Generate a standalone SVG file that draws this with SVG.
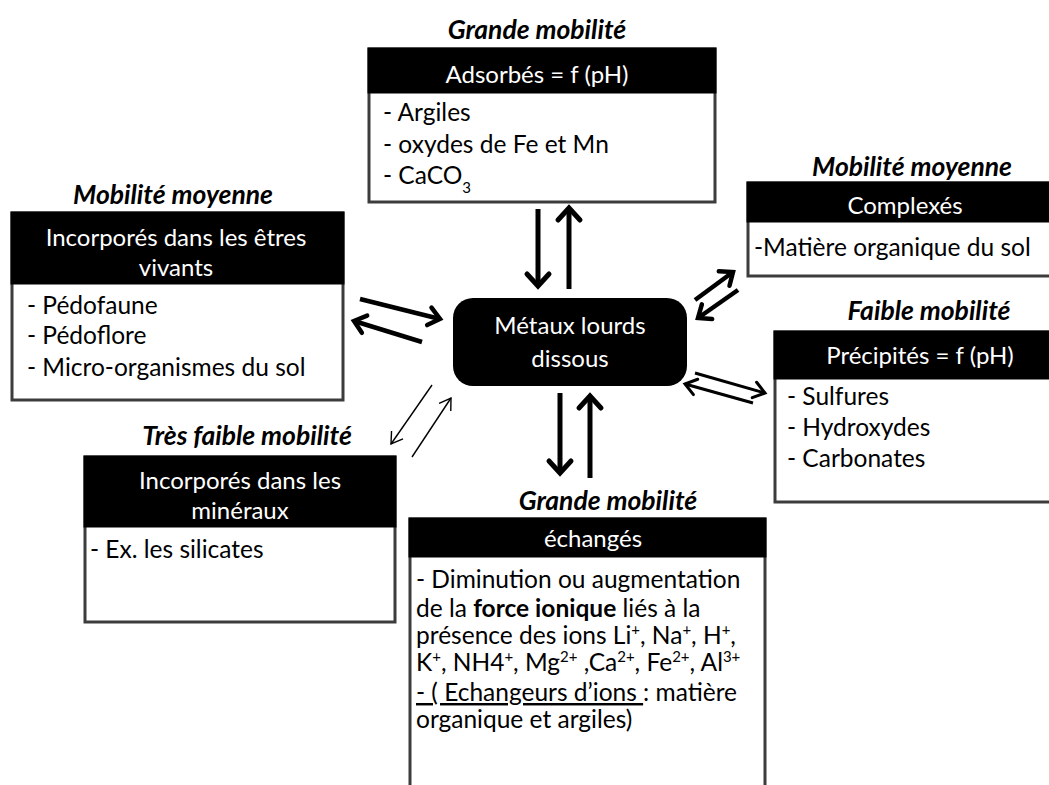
<svg xmlns="http://www.w3.org/2000/svg" width="1049" height="785" viewBox="0 0 1049 785">
  <style>
    .title { font-family: Lato, "Liberation Sans", sans-serif; font-size: 26.5px; font-weight: bold; font-style: italic; fill: #000; text-anchor: middle; }
    .head { font-family: Lato, "Liberation Sans", sans-serif; font-size: 24px; fill: #fff; text-anchor: middle; }
    .body { font-family: Lato, "Liberation Sans", sans-serif; font-size: 24.5px; fill: #000; }
    .frame { fill: #fff; stroke: #3c3c3c; stroke-width: 3; }
    .bar { fill: #000; }
    .thick { stroke: #000; stroke-width: 5; fill: none; }
    .mid { stroke: #000; stroke-width: 4.5; fill: none; }
    .light { stroke: #000; stroke-width: 3; fill: none; }
    .thin { stroke: #000; stroke-width: 1.4; fill: none; }
    .sup { font-size: 15px; }
  </style>
  <defs>
    <marker id="headBig" markerUnits="userSpaceOnUse" viewBox="-16 -14 20 28" markerWidth="20" markerHeight="28" refX="0" refY="0" orient="auto" overflow="visible">
      <path d="M-12,-11 L0,0 L-12,11" fill="none" stroke="#000" stroke-width="5" stroke-linecap="round"/>
    </marker>
    <marker id="headMid" markerUnits="userSpaceOnUse" viewBox="-14 -12 18 24" markerWidth="18" markerHeight="24" refX="0" refY="0" orient="auto" overflow="visible">
      <path d="M-11,-9 L0,0 L-11,9" fill="none" stroke="#000" stroke-width="4.5" stroke-linecap="round"/>
    </marker>
    <marker id="headLight" markerUnits="userSpaceOnUse" viewBox="-14 -12 18 24" markerWidth="18" markerHeight="24" refX="0" refY="0" orient="auto" overflow="visible">
      <path d="M-11,-8 L0,0 L-11,8" fill="none" stroke="#000" stroke-width="3" stroke-linecap="round"/>
    </marker>
    <marker id="headThin" markerUnits="userSpaceOnUse" viewBox="-14 -12 18 24" markerWidth="18" markerHeight="24" refX="0" refY="0" orient="auto" overflow="visible">
      <path d="M-11,-7 L0,0 L-11,7" fill="none" stroke="#000" stroke-width="1.4"/>
    </marker>
  </defs>

  <rect width="1049" height="785" fill="#fff"/>

  <!-- adsorbed fraction -->
  <g id="adsorbes">
    <text class="title" x="537" y="39">Grande mobilité</text>
    <rect class="frame" x="369" y="49" width="346" height="153"/>
    <rect class="bar" x="367.5" y="47.5" width="349" height="46"/>
    <text class="head" x="537" y="83">Adsorbés = f (pH)</text>
    <text class="body" x="383" y="121">-  Argiles</text>
    <text class="body" x="383" y="153">-  oxydes de Fe et Mn</text>
    <text class="body" x="383" y="184">-  CaCO<tspan class="sup" baseline-shift="sub">3</tspan></text>
  </g>

  <!-- living organisms -->
  <g id="etres-vivants">
    <text class="title" x="173" y="204">Mobilité moyenne</text>
    <rect class="frame" x="12" y="213" width="331" height="187"/>
    <rect class="bar" x="10.5" y="211.5" width="334" height="73"/>
    <text class="head" x="176" y="246">Incorporés dans les êtres</text>
    <text class="head" x="176" y="276">vivants</text>
    <text class="body" x="27" y="314">- Pédofaune</text>
    <text class="body" x="27" y="344">- Pédoflore</text>
    <text class="body" x="27" y="376"> - Micro-organismes du sol</text>
  </g>

  <!-- complexed fraction -->
  <g id="complexes">
    <text class="title" x="912" y="176">Mobilité moyenne</text>
    <rect class="frame" x="748" y="183" width="310" height="93"/>
    <rect class="bar" x="746.5" y="181.5" width="313" height="41"/>
    <text class="head" x="905" y="214">Complexés</text>
    <text class="body" x="754" y="256">-Matière organique du sol</text>
  </g>

  <!-- central node -->
  <g id="metaux-dissous">
    <rect x="453" y="298" width="234" height="88" rx="20" fill="#000"/>
    <text class="head" x="570" y="334" font-size="24.5">Métaux lourds</text>
    <text class="head" x="570" y="367" font-size="24.5">dissous</text>
  </g>

  <!-- precipitated fraction -->
  <g id="precipites">
    <text class="title" x="929" y="320">Faible mobilité</text>
    <rect class="frame" x="775" y="332" width="283" height="170"/>
    <rect class="bar" x="773.5" y="330.5" width="286" height="49"/>
    <text class="head" x="920" y="364">Précipités = f (pH)</text>
    <text class="body" x="787" y="405">- Sulfures</text>
    <text class="body" x="787" y="436">- Hydroxydes</text>
    <text class="body" x="787" y="467">-  Carbonates</text>
  </g>

  <!-- mineral-bound fraction -->
  <g id="mineraux">
    <text class="title" x="247" y="445">Très faible  mobilité</text>
    <rect class="frame" x="85" y="457" width="310" height="165"/>
    <rect class="bar" x="83.5" y="455.5" width="313" height="72"/>
    <text class="head" x="240" y="489">Incorporés  dans les</text>
    <text class="head" x="240" y="519">minéraux</text>
    <text class="body" x="90" y="558">- Ex. les silicates</text>
  </g>

  <!-- exchangeable fraction -->
  <g id="echanges">
    <text class="title" x="608" y="510">Grande mobilité</text>
    <path d="M410,790 V519 H765 V790" class="frame"/>
    <rect class="bar" x="408.5" y="517.5" width="358" height="40"/>
    <text class="head" x="593" y="547" font-size="23">échangés</text>
    <text class="body" x="416" y="588">-  Diminution ou augmentation</text>
    <text class="body" x="416" y="617">de la <tspan font-weight="bold">force ionique</tspan> liés à la</text>
    <text class="body" x="416" y="644">présence des ions Li<tspan class="sup" baseline-shift="super">+</tspan>, Na<tspan class="sup" baseline-shift="super">+</tspan>, H<tspan class="sup" baseline-shift="super">+</tspan>,</text>
    <text class="body" x="416" y="671">K<tspan class="sup" baseline-shift="super">+</tspan>, NH4<tspan class="sup" baseline-shift="super">+</tspan>, Mg<tspan class="sup" baseline-shift="super">2+</tspan> ,Ca<tspan class="sup" baseline-shift="super">2+</tspan>, Fe<tspan class="sup" baseline-shift="super">2+</tspan>, Al<tspan class="sup" baseline-shift="super">3+</tspan></text>
    <text class="body" x="416" y="701"><tspan text-decoration="underline">- ( Echangeurs  d’ions </tspan>: matière</text>
    <text class="body" x="416" y="728">organique et argiles)</text>
  </g>

  <!-- exchange arrows between the central node and each fraction -->
  <g id="connectors">
    <line class="thick" x1="538" y1="209" x2="538" y2="286" marker-end="url(#headBig)"/>
    <line class="thick" x1="569" y1="289" x2="569" y2="208" marker-end="url(#headBig)"/>
    <line class="thick" x1="560" y1="393" x2="560" y2="473" marker-end="url(#headBig)"/>
    <line class="thick" x1="590" y1="478" x2="590" y2="396" marker-end="url(#headBig)"/>
    <line class="mid" x1="360" y1="299" x2="440" y2="319" marker-end="url(#headMid)"/>
    <line class="mid" x1="422" y1="342" x2="354" y2="321" marker-end="url(#headMid)"/>
    <line class="mid" x1="695" y1="300" x2="733" y2="272" marker-end="url(#headMid)"/>
    <line class="mid" x1="738" y1="290" x2="698" y2="318" marker-end="url(#headMid)"/>
    <line class="light" x1="695" y1="373" x2="765" y2="393" marker-end="url(#headLight)"/>
    <line class="light" x1="753" y1="403" x2="685" y2="384" marker-end="url(#headLight)"/>
    <line class="thin" x1="432" y1="385" x2="391" y2="444" marker-end="url(#headThin)"/>
    <line class="thin" x1="412" y1="457" x2="451" y2="398" marker-end="url(#headThin)"/>
  </g>
</svg>
